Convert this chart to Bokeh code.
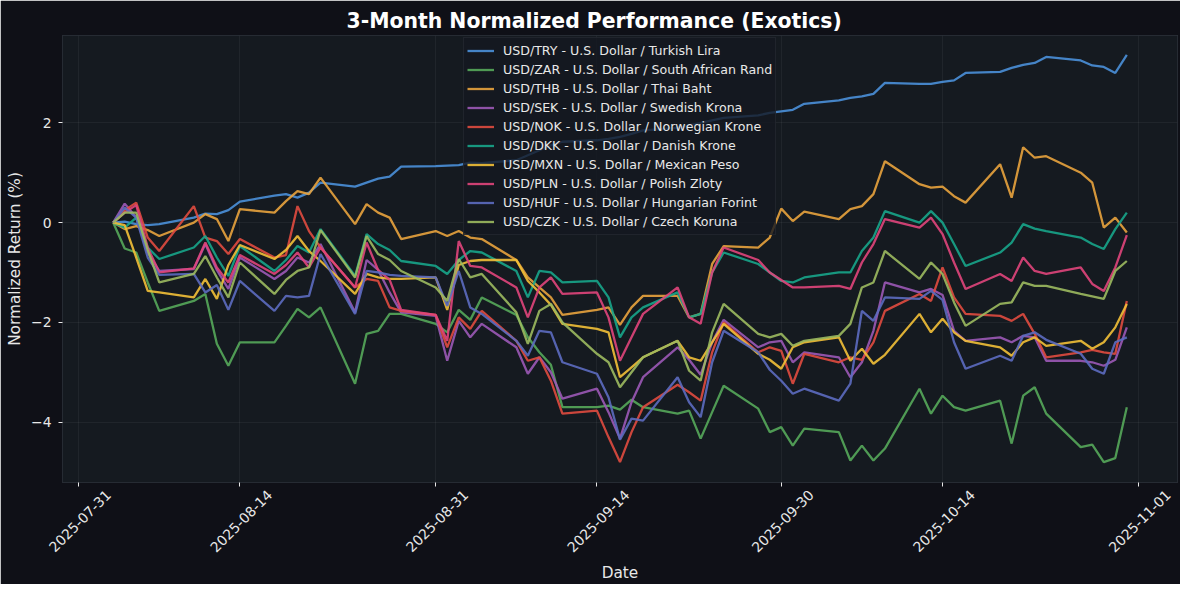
import math
import pandas as pd
from bokeh.plotting import figure
from bokeh.models import Range1d, FixedTicker, Legend, DatetimeAxis
from bokeh.embed import file_html
from bokeh.resources import INLINE

# trading days shown in the chart (Mon-Fri, 2025-08-04 .. 2025-10-31)
dates = pd.bdate_range("2025-08-04", "2025-10-31")

names = [
    "USD/TRY - U.S. Dollar / Turkish Lira",
    "USD/ZAR - U.S. Dollar / South African Rand",
    "USD/THB - U.S. Dollar / Thai Baht",
    "USD/SEK - U.S. Dollar / Swedish Krona",
    "USD/NOK - U.S. Dollar / Norwegian Krone",
    "USD/DKK - U.S. Dollar / Danish Krone",
    "USD/MXN - U.S. Dollar / Mexican Peso",
    "USD/PLN - U.S. Dollar / Polish Zloty",
    "USD/HUF - U.S. Dollar / Hungarian Forint",
    "USD/CZK - U.S. Dollar / Czech Koruna",
]

usd_try = [0.00, 0.02, -0.03, -0.05, -0.03,
           0.10, 0.18, 0.17, 0.25, 0.42,
           0.54, 0.57, 0.50, 0.60, 0.80,
           0.72, 0.80, 0.88, 0.92, 1.12,
           1.13, 1.14, 1.15, 1.20, 1.19,
           1.25, 1.35, 1.45, 1.55, 1.62,
           1.65, 1.68, 1.72, 1.78, 1.85,
           1.90, 1.95, 2.00, 2.05, 2.10,
           2.15, 2.20, 2.23, 2.26, 2.38,
           2.45, 2.50, 2.53, 2.58, 2.80,
           2.78, 2.78, 2.82, 2.85, 3.00,
           3.02, 3.10, 3.16, 3.20, 3.32,
           3.25, 3.15, 3.12, 3.00, 3.36]

usd_zar = [0.00, -0.52, -0.60, -1.20, -1.77,
           -1.57, -1.43, -2.43, -2.87, -2.40,
           -2.40, -2.07, -1.73, -1.90, -1.70,
           -3.23, -2.23, -2.17, -1.83, -1.83,
           -2.03, -2.20, -1.75, -1.95, -1.50,
           -1.85, -2.30, -2.60, -2.85, -3.70,
           -3.70, -3.67, -3.75, -3.55, -3.70,
           -3.83, -3.77, -4.33, -3.80, -3.27,
           -3.73, -4.20, -4.10, -4.47, -4.13,
           -4.20, -4.77, -4.47, -4.77, -4.53,
           -3.33, -3.83, -3.47, -3.70, -3.77,
           -3.57, -4.43, -3.47, -3.30, -3.83,
           -4.50, -4.45, -4.80, -4.72, -3.70]

usd_thb = [0.00, -0.13, -0.07, -0.15, -0.27,
           0.00, 0.17, 0.07, -0.37, 0.27,
           0.20, 0.43, 0.63, 0.57, 0.90,
           -0.03, 0.37, 0.20, 0.10, -0.33,
           -0.17, -0.27, -0.17, -0.30, -0.33,
           -0.75, -1.10, -1.30, -1.50, -1.85,
           -1.75, -1.70, -2.05, -1.70, -1.47,
           -1.47, -1.90, -1.83, -0.83, -0.47,
           -0.50, -0.30, 0.28, 0.03, 0.22,
           0.07, 0.27, 0.33, 0.57, 1.23,
           0.77, 0.70, 0.72, 0.53, 0.40,
           1.17, 0.50, 1.51, 1.30, 1.33,
           1.00, 0.80, -0.10, 0.10, -0.20]

usd_sek = [0.00, 0.38, 0.10, -0.60, -0.97,
           -0.93, -0.43, -0.95, -1.33, -0.70,
           -1.13, -0.97, -0.70, -0.80, -0.43,
           -1.80, -0.75, -0.95, -1.40, -1.80,
           -1.87, -2.77, -1.97, -2.30, -2.03,
           -2.50, -3.03, -2.70, -3.00, -3.53,
           -3.33, -3.80, -4.33, -3.60, -3.10,
           -2.50, -2.75, -3.05, -2.40, -1.95,
           -2.50, -2.40, -2.37, -2.80, -2.60,
           -2.70, -3.10, -2.80, -2.17, -1.20,
           -1.40, -1.33, -1.45, -2.17, -2.37,
           -2.30, -2.40, -2.27, -2.30, -2.77,
           -2.77, -2.80, -2.87, -2.75, -2.10]

usd_nok = [0.00, 0.25, 0.40, -0.30, -0.57,
           0.33, -0.30, -0.37, -0.63, -0.33,
           -0.70, -0.65, 0.33, -0.17, -0.50,
           -1.30, -1.13, -1.17, -1.70, -1.77,
           -1.85, -2.50, -1.90, -2.13, -1.77,
           -2.37, -2.77, -2.70, -3.17, -3.83,
           -3.77, -4.30, -4.80, -4.20, -3.70,
           -3.25, -3.40, -3.57, -2.60, -2.00,
           -2.60, -2.50, -2.57, -3.23, -2.63,
           -2.80, -2.70, -2.75, -2.40, -1.77,
           -1.43, -1.57, -0.90, -1.50, -1.83,
           -1.87, -1.97, -1.83, -2.23, -2.70,
           -2.60, -2.55, -2.60, -2.63, -1.57]

usd_dkk = [0.00, -0.10, 0.10, -0.50, -0.73,
           -0.50, -0.27, -0.70, -1.07, -0.47,
           -0.97, -0.75, -0.47, -0.60, -0.13,
           -1.07, -0.23, -0.43, -0.55, -0.77,
           -0.87, -1.03, -0.75, -0.57, -0.60,
           -0.97, -1.50, -0.97, -1.00, -1.20,
           -1.17, -1.50, -2.30, -1.90, -1.70,
           -1.40, -1.90, -1.83, -1.00, -0.60,
           -0.83, -1.00, -1.17, -1.20, -1.10,
           -1.00, -1.00, -0.57, -0.30, 0.23,
           0.00, 0.23, 0.00, -0.43, -0.87,
           -0.60, -0.40, -0.03, -0.12, -0.17,
           -0.30, -0.43, -0.53, -0.13, 0.20]

usd_mxn = [0.00, -0.05, -0.70, -1.37, -1.40,
           -1.50, -1.13, -1.53, -0.85, -0.45,
           -0.73, -0.55, -0.27, -0.57, -0.77,
           -1.43, -1.03, -1.10, -1.13, -1.13,
           -1.10, -1.75, -0.85, -0.77, -0.75,
           -0.75, -1.17, -1.40, -1.65, -2.03,
           -2.13, -2.20, -3.10, -2.90, -2.70,
           -2.37, -2.70, -2.77, -2.40, -2.03,
           -2.63, -2.75, -2.93, -2.50, -2.40,
           -2.30, -2.77, -2.53, -2.83, -2.65,
           -1.83, -2.20, -1.93, -2.20, -2.37,
           -2.50, -2.67, -2.40, -2.30, -2.47,
           -2.37, -2.53, -2.40, -2.10, -1.63]

usd_pln = [0.00, 0.20, 0.35, -0.50, -1.00,
           -0.92, -0.40, -0.90, -1.20, -0.65,
           -1.03, -0.85, -0.60, -0.90, -0.50,
           -1.30, -0.40, -0.95, -1.15, -1.75,
           -1.85, -2.37, -0.37, -0.87, -0.90,
           -1.30, -1.90, -1.30, -1.10, -1.43,
           -1.40, -1.90, -2.77, -2.30, -1.83,
           -1.30, -1.90, -2.03, -1.00, -0.50,
           -0.75, -1.00, -1.15, -1.30, -1.30,
           -1.27, -1.33, -0.80, -0.43, 0.07,
           -0.10, 0.10, -0.23, -0.80, -1.33,
           -1.03, -1.17, -0.70, -0.97, -1.03,
           -0.90, -1.23, -1.37, -0.90, -0.25]

usd_huf = [0.00, 0.30, 0.10, -0.70, -1.05,
           -1.03, -1.40, -1.25, -1.75, -1.17,
           -1.77, -1.47, -1.50, -1.47, -0.63,
           -1.83, -0.97, -1.00, -1.05, -1.07,
           -1.10, -1.67, -0.97, -1.70, -1.83,
           -2.37, -2.67, -2.17, -2.20, -2.80,
           -3.03, -3.50, -4.35, -3.93, -3.97,
           -3.10, -3.60, -3.90, -2.80, -2.17,
           -2.60, -2.95, -3.17, -3.43, -3.33,
           -3.57, -3.23, -1.77, -1.97, -1.50,
           -1.53, -1.37, -1.55, -2.40, -2.93,
           -2.67, -2.77, -2.27, -2.20, -2.35,
           -2.63, -2.93, -3.03, -2.40, -2.30]

usd_czk = [0.00, 0.20, 0.20, -0.55, -1.20,
           -1.03, -0.67, -1.10, -1.50, -0.80,
           -1.43, -1.15, -0.97, -0.90, -0.15,
           -1.10, -0.27, -0.63, -0.75, -0.97,
           -1.30, -1.57, -0.73, -1.10, -1.03,
           -1.80, -2.43, -1.77, -1.63, -2.00,
           -2.63, -2.80, -3.30, -3.00, -2.70,
           -2.37, -2.97, -3.17, -2.20, -1.63,
           -2.23, -2.30, -2.23, -2.47, -2.37,
           -2.27, -2.03, -1.30, -1.20, -0.57,
           -1.13, -0.80, -1.03, -1.60, -2.07,
           -1.63, -1.60, -1.20, -1.27, -1.27,
           -1.43, -1.48, -1.53, -0.97, -0.77]

series = [usd_try, usd_zar, usd_thb, usd_sek, usd_nok,
          usd_dkk, usd_mxn, usd_pln, usd_huf, usd_czk]

colors = ["#4a90d9", "#55a85a", "#e8a33d", "#9b59b6", "#e04b3f",
          "#17a589", "#f2c037", "#e0457b", "#5c6bc0", "#9cba5f"]

# x tick positions and the labels the original chart printed for them
tick_dates = ["2025-08-01", "2025-08-15", "2025-09-01", "2025-09-15",
              "2025-10-01", "2025-10-15", "2025-11-01"]
tick_labels = ["2025-07-31", "2025-08-14", "2025-08-31", "2025-09-14",
               "2025-09-30", "2025-10-14", "2025-11-01"]

y_ticks = [-4, -2, 0, 2]
y_tick_labels = ["\u22124", "\u22122", "0", "2"]


def ms(ts):
    return int(pd.Timestamp(ts).value // 10**6)


DAY = 86400000
x0 = ms(dates[0]) - 4.4 * DAY
x1 = ms(dates[-1]) + 4.4 * DAY
Y0, Y1 = -5.21, 3.75

FONT = "DejaVu Sans"
TXT = "#e8e8e8"

p = figure(frame_width=1115, frame_height=447, x_axis_type="datetime",
           output_backend="svg", toolbar_location=None,
           x_range=Range1d(x0, x1), y_range=Range1d(Y0, Y1),
           background_fill_color="#151a20", border_fill_color="#0f1017",
           min_border_left=62, min_border_right=3, min_border_bottom=100,
           min_border_top=35,
           title="3-Month Normalized Performance (Exotics)")

p.outline_line_color = "#262b33"

p.title.align = "left"
p.title.offset = 284
p.title.text_font = FONT
p.title.text_font_size = "20.4px"
p.title.text_font_style = "bold"
p.title.text_color = "#ffffff"
p.title.standoff = 6

# axes
for ax in (p.xaxis, p.yaxis):
    ax.axis_line_color = "#262b33"
    ax.major_tick_line_color = TXT
    ax.major_tick_out = 4
    ax.major_tick_in = 0
    ax.minor_tick_line_color = None
    ax.major_label_text_font = FONT
    ax.major_label_text_font_size = "13.9px"
    ax.major_label_text_color = TXT
    ax.axis_label_text_font = FONT
    ax.axis_label_text_font_size = "15.3px"
    ax.axis_label_text_font_style = "normal"
    ax.axis_label_text_color = TXT

p.yaxis.axis_label = "Normalized Return (%)"
p.yaxis.axis_label_standoff = 4
p.yaxis.major_label_standoff = 7
p.yaxis.ticker = FixedTicker(ticks=y_ticks)
p.yaxis.major_label_overrides = dict(zip(y_ticks, y_tick_labels))

# tick marks only on the first x axis
tick_ms = [ms(d) for d in tick_dates]
p.xaxis.ticker = FixedTicker(ticks=tick_ms)
p.xaxis.major_label_overrides = {t: "" for t in tick_ms}
p.xaxis.major_label_text_font_size = "0px"
p.xaxis.major_label_standoff = 0

# second x axis carries the rotated labels; its (hidden) ticks are moved so
# that each right-anchored label ends up centred on the real tick
shift = 2.6 * DAY
label_pos = [t + shift for t in tick_ms]
lab_axis = DatetimeAxis(ticker=FixedTicker(ticks=label_pos),
                        major_label_overrides=dict(zip(label_pos, tick_labels)),
                        major_label_orientation=math.pi / 4,
                        major_label_standoff=0,
                        major_tick_line_color=None, minor_tick_line_color=None,
                        axis_line_color=None,
                        major_label_text_font=FONT,
                        major_label_text_font_size="13.9px",
                        major_label_text_color=TXT,
                        axis_label="Date", axis_label_standoff=4,
                        axis_label_text_font=FONT,
                        axis_label_text_font_size="15.3px",
                        axis_label_text_font_style="normal",
                        axis_label_text_color=TXT)
p.add_layout(lab_axis, "below")

p.xgrid.ticker = FixedTicker(ticks=tick_ms)
p.grid.grid_line_color = "#ffffff"
p.grid.grid_line_alpha = 0.05

items = []
for name, vals, col in zip(names, series, colors):
    r = p.line(x=list(dates), y=vals, color=col, line_width=2.3, line_alpha=0.9)
    items.append((name, [r]))

legend = Legend(items=items, location=(401, 247))
legend.background_fill_color = "#141820"
legend.background_fill_alpha = 0.8
legend.border_line_color = "#2c3038"
legend.label_text_font = FONT
legend.label_text_font_size = "12.6px"
legend.label_text_color = TXT
legend.label_height = 19
legend.glyph_height = 19
legend.glyph_width = 27
legend.spacing = 0
legend.padding = 3
legend.label_standoff = 9
p.add_layout(legend)

open("out.html", "w").write(file_html(p, INLINE))
